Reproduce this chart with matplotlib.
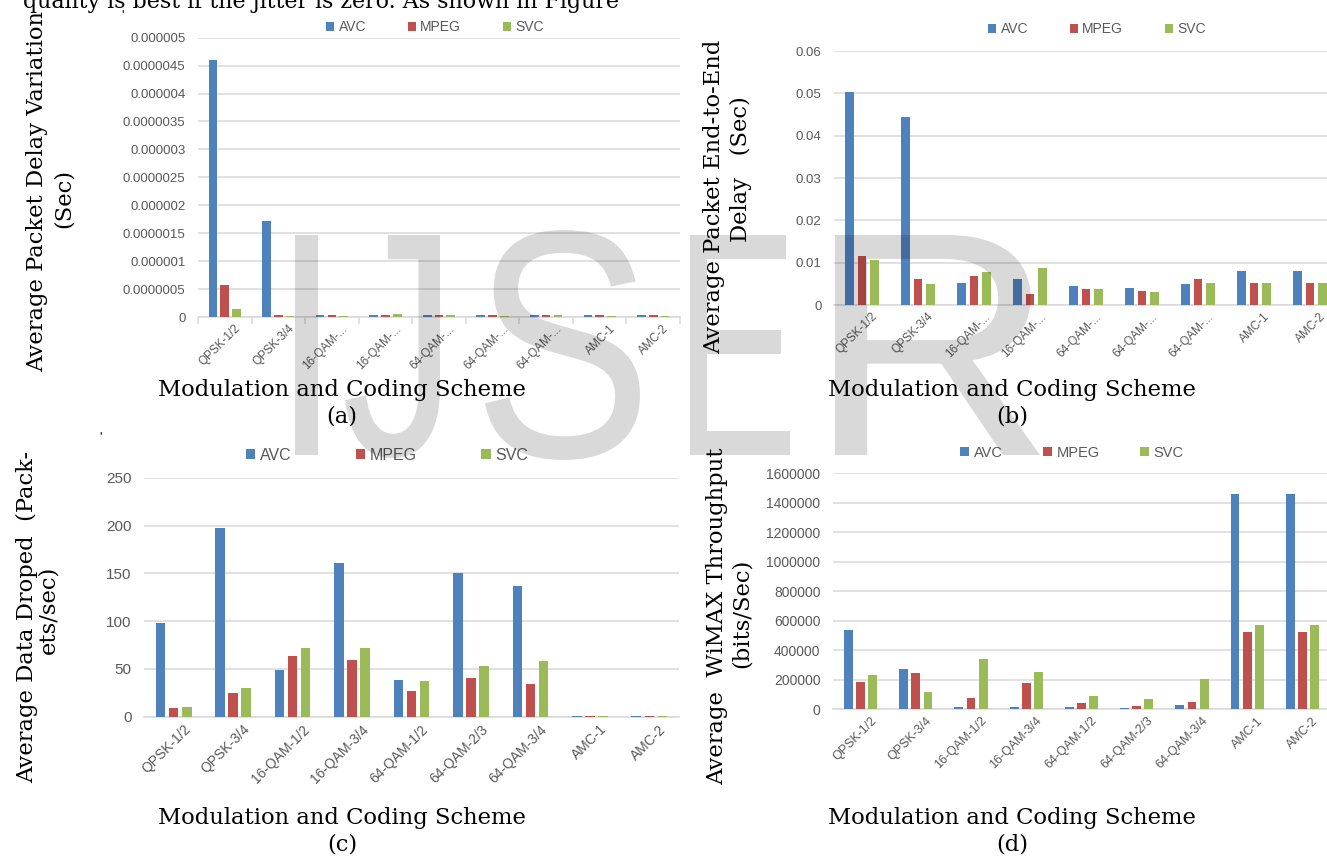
import numpy as np
import matplotlib.pyplot as plt
from matplotlib.textpath import TextPath
from matplotlib.font_manager import FontProperties
from matplotlib.patches import PathPatch
from matplotlib.transforms import Affine2D, ScaledTranslation

W, H = 1327, 859

codecs = ["AVC", "MPEG", "SVC"]
colors = ["#4F81BD", "#C0504D", "#9BBB59"]
schemes = ["QPSK-1/2", "QPSK-3/4", "16-QAM-1/2", "16-QAM-3/4", "64-QAM-1/2",
           "64-QAM-2/3", "64-QAM-3/4", "AMC-1", "AMC-2"]
schemes_cut = ["QPSK-1/2", "QPSK-3/4", "16-QAM-...", "16-QAM-...", "64-QAM-...",
               "64-QAM-...", "64-QAM-...", "AMC-1", "AMC-2"]

# (a) packet delay variation, sec
jitter_avc = [4.6e-6, 1.72e-6, 0.03e-6, 0.03e-6, 0.03e-6, 0.03e-6, 0.035e-6, 0.03e-6, 0.03e-6]
jitter_mpeg = [0.57e-6, 0.03e-6, 0.03e-6, 0.03e-6, 0.03e-6, 0.03e-6, 0.04e-6, 0.03e-6, 0.03e-6]
jitter_svc = [0.14e-6, 0.025e-6, 0.025e-6, 0.06e-6, 0.03e-6, 0.025e-6, 0.03e-6, 0.025e-6, 0.025e-6]

# (b) end-to-end delay, sec
delay_avc = [0.0502, 0.0445, 0.0052, 0.0062, 0.0046, 0.0040, 0.0049, 0.0081, 0.0081]
delay_mpeg = [0.0116, 0.0062, 0.0068, 0.0027, 0.0037, 0.0034, 0.0062, 0.0052, 0.0052]
delay_svc = [0.0107, 0.0049, 0.0078, 0.0088, 0.0037, 0.0031, 0.0052, 0.0052, 0.0052]

# (c) data dropped, packets/sec
dropped_avc = [98, 197, 48.6, 161, 38, 150, 137, 1, 1]
dropped_mpeg = [8.6, 25, 64, 59, 27, 41, 34, 1, 1]
dropped_svc = [9.7, 30, 72, 72, 37, 53, 58, 1, 1]

# (d) WiMAX throughput, bits/sec
thr_avc = [538000, 275000, 13500, 13500, 13500, 11300, 29400, 1457600, 1457600]
thr_mpeg = [187600, 246000, 79000, 178500, 40700, 20300, 49700, 524300, 524300]
thr_svc = [235000, 117500, 343500, 255000, 90400, 70000, 203000, 574000, 574000]

fig = plt.figure(figsize=(W / 100, H / 100), dpi=100)
fig.patch.set_facecolor("white")


def px_axes(x0, y_top, x1, y_bot):
    return fig.add_axes([x0 / W, 1 - y_bot / H, (x1 - x0) / W, (y_bot - y_top) / H])


def trim(fmt):
    return lambda v, pos=None: (fmt % v).rstrip("0").rstrip(".") if "." in (fmt % v) else fmt % v


def bar_panel(box, series, ymax, step, fmt, labels, fs, leg_xy, leg_space, cat_ticks=False):
    ax = px_axes(*box)
    x = np.arange(len(labels))
    for i, (vals, c, name) in enumerate(zip(series, colors, codecs)):
        ax.bar(x + (i - 1) * 0.22, vals, width=0.16, color=c, label=name, zorder=3)
    ax.set_xlim(-0.5, len(labels) - 0.5)
    ax.set_ylim(0, ymax)
    ticks = np.arange(0, ymax + step / 2, step)
    ax.set_yticks(ticks)
    ax.set_yticklabels([trim(fmt)(t) for t in ticks])
    ax.yaxis.grid(True, color="#d9d9d9", lw=1.1, zorder=0)
    for s in ["top", "right", "left"]:
        ax.spines[s].set_visible(False)
    ax.spines["bottom"].set_color("#d9d9d9")
    ax.spines["bottom"].set_linewidth(1.1)
    ax.tick_params(axis="y", length=0, pad=9, labelsize=fs, labelcolor="#595959")
    if cat_ticks:
        ax.set_xticks(np.arange(len(labels) + 1) - 0.5, minor=True)
        ax.tick_params(axis="x", which="minor", length=5, color="#d9d9d9", width=1.1)
    ax.set_xticks(x)
    ax.set_xticklabels(labels, rotation=45, ha="right", rotation_mode="anchor")
    ax.tick_params(axis="x", which="major", length=0, pad=4, labelsize=fs - 1, labelcolor="#595959")
    for lab in ax.get_xticklabels():
        lab.set_transform(lab.get_transform() + ScaledTranslation(7 / 72, 0, fig.dpi_scale_trans))
    ax.legend(loc="center", bbox_to_anchor=(leg_xy[0] / W, 1 - leg_xy[1] / H),
              bbox_transform=fig.transFigure, ncol=3, frameon=False,
              handlelength=0.6, handleheight=0.6, handletextpad=0.3,
              columnspacing=leg_space, fontsize=fs + 0.5, labelcolor="#595959")
    return ax


plt.rcParams["font.family"] = ["Liberation Sans", "DejaVu Sans"]

bar_panel((198, 37.7, 680, 317), [jitter_avc, jitter_mpeg, jitter_svc], 5e-6, 0.5e-6, "%.7f",
          schemes_cut, 9.5, (435, 27), 3.0, cat_ticks=True)
bar_panel((834, 51, 1338, 305), [delay_avc, delay_mpeg, delay_svc], 0.06, 0.01, "%.2f",
          schemes_cut, 9.5, (1097, 29), 3.0)
bar_panel((144, 477.7, 679, 716.7), [dropped_avc, dropped_mpeg, dropped_svc], 250, 50, "%d",
          schemes, 11, (387, 455), 4.0)
bar_panel((833, 473.3, 1330, 709.3), [thr_avc, thr_mpeg, thr_svc], 1.6e6, 2e5, "%d",
          schemes, 10, (1072, 453), 2.8)

# overlay in pixel coordinates for the captions, axis titles and watermark
ov = fig.add_axes([0, 0, 1, 1], zorder=20)
ov.set_xlim(0, W)
ov.set_ylim(H, 0)
ov.axis("off")
ov.patch.set_alpha(0)

serif = dict(family="DejaVu Serif", fontsize=16.3, color="black")

ov.text(23, 8, "quality is best if the jitter is zero. As shown in Figure", ha="left", va="baseline",
        family="DejaVu Serif", fontsize=15.9, color="black")

for cx, cy, tag in [(342, 390, "(a)"), (1012, 390, "(b)"), (342, 818, "(c)"), (1012, 818, "(d)")]:
    ov.text(cx, cy, "Modulation and Coding Scheme", ha="center", va="center", **serif)
    ov.text(cx, cy + 27, tag, ha="center", va="center", **serif)

ylabels = [
    (37, 191, "Average Packet Delay Variation"), (64, 199, "(Sec)"),
    (714, 197, "Average Packet End-to-End"), (741, 169, "Delay   (Sec)"),
    (27, 617, "Average Data Droped  (Pack-"), (48, 610, "ets/sec)"),
    (717, 616, "Average  WiMAX Throughput"), (742, 613, "(bits/Sec)"),
]
for x, y, s in ylabels:
    ov.text(x, y, s, ha="center", va="center", rotation=90, **serif)

ov.text(122, 15, "'", ha="center", va="center", fontsize=9, color="black")
ov.text(100, 437, "'", ha="center", va="center", fontsize=9, color="black")

# watermark letters, each fitted to its box (x0, x1, y_top, y_bottom)
wm_font = FontProperties(family="Liberation Sans")
wm_boxes = [("I", 295, 318, 235, 455), ("J", 345, 440, 235, 458), ("S", 485, 640, 230, 460),
            ("E", 690, 790, 235, 455), ("R", 835, 1040, 235, 455)]
for ch, x0, x1, yt, yb in wm_boxes:
    tp = TextPath((0, 0), ch, size=1, prop=wm_font)
    ext = tp.get_extents()
    tr = (Affine2D().translate(-ext.x0, -ext.y0)
          .scale((x1 - x0) / ext.width, -(yb - yt) / ext.height)
          .translate(x0, yb))
    ov.add_patch(PathPatch(tr.transform_path(tp), facecolor="black", alpha=0.15, lw=0, zorder=5))

fig.savefig("out.png", dpi=100)
